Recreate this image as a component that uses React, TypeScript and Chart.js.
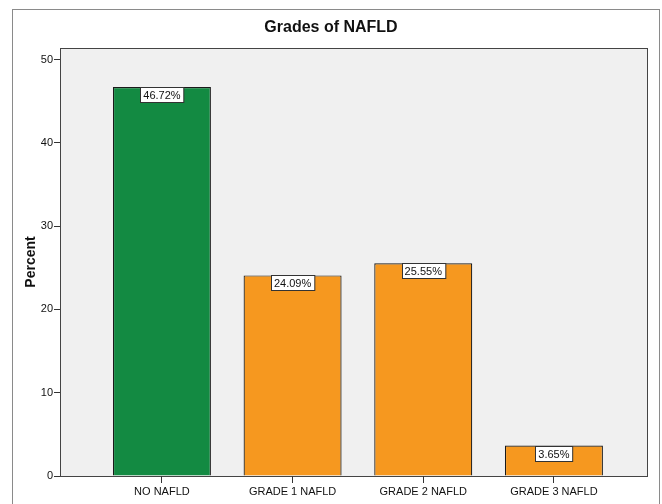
import React, { useEffect, useRef } from "react";
import { Chart, registerables } from "chart.js";

Chart.register(...registerables);

const categories = ["NO NAFLD", "GRADE 1 NAFLD", "GRADE 2 NAFLD", "GRADE 3 NAFLD"];
const percents = [46.72, 24.09, 25.55, 3.65];
const barColors = ["#138a42", "#f6981f", "#f6981f", "#f6981f"];
const yTicks = [0, 10, 20, 30, 40, 50];
const titleText = "Grades of NAFLD";
const yTitle = "Percent";

const FONT = "'Liberation Sans', Arial, sans-serif";

const framePlugin = {
  id: "frame",
  beforeDraw(chart: any) {
    const { ctx, chartArea } = chart;
    ctx.save();
    ctx.fillStyle = "#ffffff";
    ctx.fillRect(0, 0, chart.width, chart.height);
    ctx.strokeStyle = "#8a8a8a";
    ctx.lineWidth = 1;
    ctx.strokeRect(12.5, 9.5, 647, 520);
    ctx.fillStyle = "#f0f0f0";
    ctx.fillRect(chartArea.left, chartArea.top, chartArea.right - chartArea.left, chartArea.bottom - chartArea.top);
    ctx.strokeStyle = "#444444";
    ctx.strokeRect(chartArea.left + 0.5, chartArea.top + 0.5, chartArea.right - chartArea.left - 1, chartArea.bottom - chartArea.top);
    ctx.fillStyle = "#111";
    ctx.font = `bold 16px ${FONT}`;
    ctx.textAlign = "center";
    ctx.textBaseline = "middle";
    ctx.fillText(titleText, 331, 28);
    ctx.restore();
  },
  afterDatasetsDraw(chart: any) {
    const { ctx } = chart;
    const meta = chart.getDatasetMeta(0);
    ctx.save();
    ctx.font = `11px ${FONT}`;
    ctx.textAlign = "center";
    ctx.textBaseline = "middle";
    meta.data.forEach((bar: any, i: number) => {
      const text = percents[i].toFixed(2) + "%";
      const w = ctx.measureText(text).width + 6;
      const h = 15;
      const x = Math.round(bar.x - w / 2) + 0.5;
      const y = Math.round(bar.y) + 0.5;
      ctx.fillStyle = "#ffffff";
      ctx.fillRect(x, y, w, h);
      ctx.strokeStyle = "#333";
      ctx.lineWidth = 1;
      ctx.strokeRect(x, y, w, h);
      ctx.fillStyle = "#111";
      ctx.fillText(text, bar.x, y + h / 2 + 0.5);
    });
    ctx.restore();
  },
};

export default function App() {
  const ref = useRef<HTMLCanvasElement>(null);
  useEffect(() => {
    document.body.style.margin = "0";
    const chart = new Chart(ref.current!, {
      type: "bar",
      data: {
        datasets: [
          {
            data: categories.map((_, i) => ({ x: i, y: percents[i] })) as any,
            backgroundColor: barColors,
            borderColor: "#1a1a1a",
            borderWidth: 1.2,
            barPercentage: 0.75,
            categoryPercentage: 1,
          },
        ],
      },
      options: {
        animation: false,
        responsive: false,
        maintainAspectRatio: false,
        layout: { padding: { top: 48, right: 14, left: 0, bottom: 0 } },
        plugins: { legend: { display: false }, tooltip: { enabled: false }, title: { display: false } },
        scales: {
          x: {
            type: "linear",
            min: -0.78,
            max: 3.72,
            offset: false,
            afterBuildTicks: (s: any) => {
              s.ticks = categories.map((_, i) => ({ value: i }));
            },
            afterFit: (s: any) => {
              s.height = 28;
            },
            grid: { offset: false, drawOnChartArea: false, drawTicks: true, tickLength: 7, color: "#333", tickWidth: 1 },
            border: { display: false },
            ticks: {
              autoSkip: false,
              maxRotation: 0,
              padding: 2,
              color: "#111",
              font: { family: FONT, size: 11 },
              callback: (v: any) => categories[v as number] ?? "",
            },
          },
          y: {
            min: 0,
            max: 51.4,
            afterBuildTicks: (s: any) => {
              s.ticks = yTicks.map((v) => ({ value: v }));
            },
            afterFit: (s: any) => {
              s.width = 60;
            },
            grid: { drawOnChartArea: false, drawTicks: true, tickLength: 6, color: "#333" },
            border: { display: false },
            title: {
              display: true,
              text: yTitle,
              color: "#111",
              font: { family: FONT, size: 14, weight: "bold" },
              padding: { top: 23, bottom: 0 },
            },
            ticks: {
              padding: 1,
              color: "#111",
              font: { family: FONT, size: 11 },
            },
          },
        },
      },
      plugins: [framePlugin],
    } as any);
    return () => chart.destroy();
  }, []);
  return <canvas ref={ref} width={662} height={504} style={{ display: "block", width: 662, height: 504 }} />;
}
